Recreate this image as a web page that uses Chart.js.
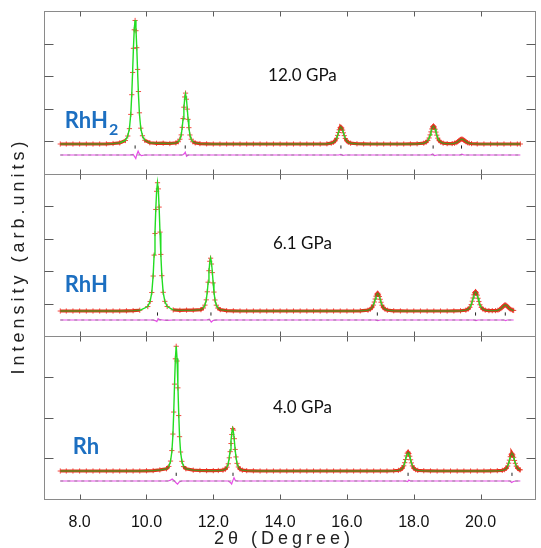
<!DOCTYPE html>
<html>
<head>
<meta charset="utf-8">
<script src="https://cdn.jsdelivr.net/npm/chart.js@4.4.1/dist/chart.umd.min.js"></script>
<style>
  html, body { margin: 0; padding: 0; background: #fff; }
</style>
</head>
<body>
<canvas id="rietveld" width="541" height="548"></canvas>
<script>
// bottom axis tick labels (2 theta, degree)
const xTicks = [8, 10, 12, 14, 16, 18, 20];

const pressures = ["12.0 GPa", "6.1 GPa", "4.0 GPa"];
const phases = ["RhH", "RhH", "Rh"];
const phaseSubs = ["2", "", ""];

// ---- 12.0 GPa, RhH2
const angle12 = [
  7.42, 7.6, 7.8, 8.0, 8.2, 8.4, 8.6, 8.8, 9.0, 9.2,
  9.37, 9.44, 9.49, 9.53, 9.56, 9.585, 9.61, 9.635, 9.66, 9.685, 9.71, 9.735, 9.76, 9.79, 9.83, 9.88, 9.95,
  10.1, 10.3, 10.5, 10.7,
  10.88, 10.95, 11.0, 11.04, 11.07, 11.095, 11.12, 11.145, 11.17, 11.195, 11.22, 11.245, 11.27, 11.3, 11.34, 11.39, 11.46,
  11.6, 11.8, 12.0, 12.2, 12.4, 12.6, 12.8, 13.0, 13.2, 13.4, 13.6, 13.8, 14.0, 14.2, 14.4, 14.6, 14.8, 15.0, 15.2, 15.4,
  15.53, 15.6, 15.65, 15.69, 15.72, 15.745, 15.77, 15.795, 15.82, 15.845, 15.87, 15.895, 15.92, 15.95, 15.99, 16.04, 16.11,
  16.3, 16.5, 16.7, 16.9, 17.1, 17.3, 17.5, 17.7, 17.9, 18.1,
  18.3, 18.37, 18.42, 18.46, 18.49, 18.515, 18.54, 18.565, 18.59, 18.615, 18.64, 18.665, 18.69, 18.72, 18.76, 18.81, 18.88,
  19.0,
  19.15, 19.22, 19.27, 19.31, 19.34, 19.365, 19.39, 19.415, 19.44, 19.465, 19.49, 19.515, 19.54, 19.57, 19.61, 19.66, 19.73,
  19.9, 20.1, 20.3, 20.5, 20.7, 20.9, 21.1, 21.19
];
const obs12 = [
  0, 0, 0, 0, 0, 0, 0, 5, 15, 35,
  108, 250, 480, 925, 1540, 2235, 2990, 3570, 3860, 3540, 3010, 2330, 1640, 975, 495, 258, 115,
  40, 22, 25, 15,
  34, 70, 150, 285, 520, 795, 1150, 1470, 1590, 1400, 1090, 770, 510, 282, 150, 68, 34,
  12, 5, 0, 0, 0, 0, 0, 0, 0, 0, 0, 0, 0, 0, 0, 0, 0, 0, 0, 6,
  26, 55, 100, 178, 270, 360, 445, 510, 525, 500, 435, 350, 262, 172, 100, 54, 25,
  7, 2, 0, 0, 0, 0, 0, 0, 2, 7,
  26, 57, 108, 188, 285, 380, 470, 540, 565, 535, 462, 372, 276, 182, 105, 56, 26,
  12,
  13, 25, 44, 70, 94, 115, 132, 146, 152, 144, 128, 110, 90, 66, 42, 24, 12,
  4, 0, 0, 0, 0, 0, 0, 0
];
const calc12 = [
  0, 0, 0, 0, 0, 0, 0, 5, 14, 33,
  112, 252, 484, 930, 1550, 2248, 3003, 3604, 3875, 3604, 3003, 2248, 1550, 930, 484, 252, 112,
  38, 22, 22, 15,
  33, 67, 148, 281, 515, 780, 1123, 1420, 1560, 1420, 1123, 780, 515, 281, 148, 67, 33,
  12, 5, 0, 0, 0, 0, 0, 0, 0, 0, 0, 0, 0, 0, 0, 0, 0, 0, 0, 6,
  24, 53, 101, 175, 265, 355, 440, 504, 530, 504, 440, 355, 265, 175, 101, 53, 24,
  7, 2, 0, 0, 0, 0, 0, 0, 2, 7,
  25, 56, 106, 185, 280, 375, 465, 532, 560, 532, 465, 375, 280, 185, 106, 56, 25,
  12,
  12, 24, 43, 68, 92, 113, 130, 145, 150, 145, 130, 113, 92, 68, 43, 24, 12,
  4, 0, 0, 0, 0, 0, 0, 0
];
const diffAngle12 = [7.42, 9.5, 9.6, 9.65, 9.68, 9.71, 9.75, 9.79, 9.85, 9.95, 11.08, 11.13, 11.16, 11.2, 11.25,
  15.75, 15.82, 15.88, 15.95, 18.5, 18.57, 18.62, 18.7, 19.38, 19.44, 19.5, 21.19];
const diff12 = [0, 0, 20, -60, -110, 10, 120, 30, -20, 0, 0, 40, 90, -40, 0,
  0, 20, -15, 0, 0, 30, -20, 0, 0, 25, 0, 0];
const bragg12 = [9.66, 11.16, 15.82, 18.58, 19.43];

// ---- 6.1 GPa, RhH
const angle06 = [
  7.42, 7.6, 7.8, 8.0, 8.2, 8.4, 8.6, 8.8, 9.0, 9.2, 9.4, 9.6, 9.8,
  10.04, 10.11, 10.16, 10.2, 10.23, 10.255, 10.28, 10.305, 10.33, 10.355, 10.38, 10.405, 10.43, 10.46, 10.5, 10.55, 10.62,
  10.8, 11.0, 11.2, 11.4,
  11.63, 11.7, 11.75, 11.79, 11.82, 11.845, 11.87, 11.895, 11.92, 11.945, 11.97, 11.995, 12.02, 12.05, 12.09, 12.14, 12.21,
  12.4, 12.6, 12.8, 13.0, 13.2, 13.4, 13.6, 13.8, 14.0, 14.2, 14.4, 14.6, 14.8, 15.0, 15.2, 15.4, 15.6, 15.8, 16.0, 16.2, 16.4,
  16.63, 16.7, 16.75, 16.79, 16.82, 16.845, 16.87, 16.895, 16.92, 16.945, 16.97, 16.995, 17.02, 17.05, 17.09, 17.14, 17.21,
  17.4, 17.6, 17.8, 18.0, 18.2, 18.4, 18.6, 18.8, 19.0, 19.2, 19.4,
  19.56, 19.63, 19.68, 19.72, 19.75, 19.775, 19.8, 19.825, 19.85, 19.875, 19.9, 19.925, 19.95, 19.98, 20.02, 20.07, 20.14,
  20.25, 20.35,
  20.45, 20.52, 20.57, 20.61, 20.64, 20.665, 20.69, 20.715, 20.74, 20.765, 20.79, 20.815, 20.84, 20.87, 20.91, 20.96, 20.99
];
const obs06 = [
  0, 0, 0, 0, 0, 0, 0, 0, 0, 0, 5, 10, 22,
  130, 278, 540, 1020, 1630, 2260, 2960, 3490, 3740, 3560, 3030, 2300, 1650, 1030, 545, 282, 132,
  32, 20, 25, 28,
  40, 86, 172, 326, 560, 840, 1175, 1450, 1540, 1370, 1120, 820, 552, 322, 170, 84, 40,
  10, 5, 0, 0, 0, 0, 0, 0, 0, 0, 0, 0, 0, 0, 0, 0, 0, 0, 0, 0, 6,
  24, 53, 100, 172, 262, 350, 432, 495, 520, 488, 424, 342, 255, 168, 97, 52, 24,
  6, 2, 0, 0, 0, 0, 0, 0, 0, 2, 7,
  26, 57, 108, 188, 285, 380, 472, 540, 568, 532, 462, 372, 278, 183, 106, 56, 26,
  12, 10,
  12, 23, 45, 72, 98, 126, 150, 170, 178, 166, 146, 122, 95, 68, 43, 23, 16
];
const calc06 = [
  0, 0, 0, 0, 0, 0, 0, 0, 0, 0, 5, 10, 22,
  131, 281, 543, 1030, 1648, 2285, 2997, 3521, 3746, 3521, 2997, 2285, 1648, 1030, 543, 281, 131,
  32, 20, 20, 22,
  39, 85, 170, 324, 556, 834, 1159, 1421, 1545, 1421, 1159, 834, 556, 324, 170, 85, 39,
  10, 5, 0, 0, 0, 0, 0, 0, 0, 0, 0, 0, 0, 0, 0, 0, 0, 0, 0, 0, 6,
  23, 52, 98, 170, 258, 346, 428, 490, 516, 490, 428, 346, 258, 170, 98, 52, 23,
  6, 2, 0, 0, 0, 0, 0, 0, 0, 2, 7,
  25, 56, 107, 186, 282, 377, 467, 535, 563, 535, 467, 377, 282, 186, 107, 56, 25,
  12, 10,
  11, 22, 44, 70, 97, 124, 149, 168, 175, 168, 149, 124, 97, 70, 44, 22, 16
];
const diffAngle06 = [7.42, 10.2, 10.28, 10.31, 10.35, 10.4, 10.5, 10.6, 10.8, 11.8, 11.88, 11.94, 12.0, 12.1,
  16.85, 16.92, 17.0, 19.8, 19.86, 19.92, 20.7, 20.75, 20.8, 20.99];
const diff06 = [0, 0, -25, -45, 40, 10, 0, -10, 0, 0, 25, -60, -10, 0,
  0, -15, 0, 0, -20, 0, 0, -15, 0, 0];
const bragg06 = [10.33, 11.93, 16.91, 19.85, 20.74];

// ---- 4.0 GPa, Rh
const angle04 = [
  7.42, 7.6, 7.8, 8.0, 8.2, 8.4, 8.6, 8.8, 9.0, 9.2, 9.4, 9.6, 9.8, 10.0, 10.2, 10.4,
  10.6, 10.67, 10.72, 10.76, 10.79, 10.815, 10.84, 10.865, 10.89, 10.915, 10.94, 10.965, 10.99, 11.02, 11.06, 11.11, 11.18,
  11.4, 11.6, 11.8, 12.0, 12.15,
  12.29, 12.36, 12.41, 12.45, 12.48, 12.505, 12.53, 12.555, 12.58, 12.605, 12.63, 12.655, 12.68, 12.71, 12.75, 12.8, 12.87,
  13.0, 13.2, 13.4, 13.6, 13.8, 14.0, 14.2, 14.4, 14.6, 14.8, 15.0, 15.2, 15.4, 15.6, 15.8, 16.0, 16.2, 16.4, 16.6, 16.8, 17.0, 17.2, 17.4,
  17.54, 17.61, 17.66, 17.7, 17.73, 17.755, 17.78, 17.805, 17.83, 17.855, 17.88, 17.905, 17.93, 17.96, 18.0, 18.05, 18.12,
  18.3, 18.5, 18.7, 18.9, 19.1, 19.3, 19.5, 19.7, 19.9, 20.1, 20.3, 20.5,
  20.65, 20.72, 20.77, 20.81, 20.84, 20.865, 20.89, 20.915, 20.94, 20.965, 20.99, 21.015, 21.04, 21.07, 21.11, 21.16, 21.19
];
const obs04 = [
  0, 0, 0, 0, 0, 0, 0, 0, 0, 0, 0, 0, 0, 5, 10, 25,
  52, 104, 226, 465, 840, 1340, 1975, 2550, 2835, 2500, 1890, 1260, 780, 432, 220, 101, 51,
  20, 12, 8, 8, 12,
  20, 40, 88, 165, 300, 440, 625, 830, 965, 930, 735, 490, 320, 174, 92, 41, 20,
  8, 4, 0, 0, 0, 0, 0, 0, 0, 0, 0, 0, 0, 0, 0, 0, 0, 0, 0, 0, 0, 0, 6,
  15, 33, 63, 118, 190, 262, 343, 405, 430, 398, 336, 256, 185, 116, 62, 32, 15,
  6, 2, 0, 0, 0, 0, 0, 0, 0, 0, 2, 7,
  15, 31, 59, 112, 178, 247, 325, 380, 400, 368, 312, 240, 175, 110, 58, 30, 27
];
const calc04 = [
  0, 0, 0, 0, 0, 0, 0, 0, 0, 0, 0, 0, 0, 5, 10, 24,
  51, 102, 222, 437, 795, 1306, 1960, 2556, 2840, 2556, 1960, 1306, 795, 437, 222, 102, 51,
  20, 12, 8, 8, 12,
  20, 41, 91, 172, 316, 479, 690, 872, 958, 872, 690, 479, 316, 172, 91, 41, 20,
  8, 4, 0, 0, 0, 0, 0, 0, 0, 0, 0, 0, 0, 0, 0, 0, 0, 0, 0, 0, 0, 0, 6,
  15, 32, 62, 117, 187, 259, 340, 400, 425, 400, 340, 259, 187, 117, 62, 32, 15,
  6, 2, 0, 0, 0, 0, 0, 0, 0, 0, 2, 7,
  14, 30, 58, 111, 177, 245, 322, 378, 402, 378, 322, 245, 177, 111, 58, 30, 27
];
const diffAngle04 = [7.42, 10.65, 10.72, 10.77, 10.83, 10.9, 10.93, 10.98, 11.05, 12.45, 12.52, 12.55, 12.59, 12.62, 12.66, 12.72,
  17.75, 17.82, 17.85, 17.9, 20.88, 20.93, 20.98, 21.05, 21.19];
const diff04 = [0, 0, 20, 45, 5, -50, -70, -20, 0, 0, -40, -68, 20, 75, 10, 0,
  0, -15, 20, 0, 0, -35, -10, 0, 0];
const bragg04 = [10.89, 12.59, 17.83, 20.94];

// per panel, top to bottom: y range, where the difference curve and reflection marks sit, label anchors (data coords)
const panels = [
  { axis: "y1", min: -927, max: 4156, diffAt: -344, braggAt: -94, gpaAt: [14.667, 1969], phaseAt: [7.556, 500],
    angle: angle12, obs: obs12, calc: calc12, diffAngle: diffAngle12, diff: diff12, bragg: bragg12 },
  { axis: "y2", min: -738, max: 4004, diffAt: -262, braggAt: -87, gpaAt: [14.667, 1799], phaseAt: [7.556, 554],
    angle: angle06, obs: obs06, calc: calc06, diffAngle: diffAngle06, diff: diff06, bragg: bragg06 },
  { axis: "y3", min: -636, max: 3061, diffAt: -227, braggAt: -75, gpaAt: [14.667, 1325], phaseAt: [7.793, 386],
    angle: angle04, obs: obs04, calc: calc04, diffAngle: diffAngle04, diff: diff04, bragg: bragg04 },
];

const pts = (xs, ys, shift) => xs.map((x, i) => ({ x: x, y: ys[i] + shift }));

// on steep flanks: no red connecting line, bright green fit; on the flat background the
// red band dominates and the fit shows through darker, as in the figure
const obsRed = "rgba(230,36,14,0.95)";
const steep = (c) => Math.abs(c.p1.y - c.p0.y) > 2.5;
const obsSegment = (c) => (steep(c) ? "rgba(0,0,0,0)" : obsRed);
const calcSegment = (c) => (steep(c) ? "#22dd22" : "#5a8a1c");

const datasets = [];
const scales = {
  x: {
    type: "linear",
    min: 6.933,
    max: 21.659,
    afterBuildTicks: (s) => { s.ticks = xTicks.map((v) => ({ value: v })); },
    afterFit: (s) => { s.height = 28; },
    grid: { display: false },
    border: { display: false },
    ticks: {
      padding: 6,
      color: "#111",
      maxRotation: 0,
      font: { family: "Liberation Sans", size: 16 },
      callback: (v) => Number(v).toFixed(1),
    },
  },
};

// stacked axes are laid out with the last one on top, so add them bottom panel first
panels.slice().reverse().forEach((p) => {
  scales[p.axis] = {
    type: "linear",
    position: "left",
    stack: "panels",
    stackWeight: 1,
    min: p.min,
    max: p.max,
    afterFit: (s) => { s.width = 0; },
    grid: { display: false },
    border: { display: false },
    ticks: { display: false, stepSize: 1000, includeBounds: false },
  };
});

panels.forEach((p) => {
  datasets.push(
    {
      label: "calc", yAxisID: p.axis, data: pts(p.angle, p.calc, 0), showLine: true,
      borderColor: "#22dd22", borderWidth: 1.4, segment: { borderColor: calcSegment },
      pointRadius: 0, order: 1,
    },
    {
      label: "obs", yAxisID: p.axis, data: pts(p.angle, p.obs, 0), showLine: true,
      borderColor: obsRed, borderWidth: 3.2, segment: { borderColor: obsSegment },
      pointStyle: "cross", pointRadius: 2.6, pointBorderWidth: 1,
      pointBorderColor: "rgba(240,45,35,0.85)", order: 2,
    },
    {
      label: "zero", yAxisID: p.axis, showLine: true, pointRadius: 0, order: 3,
      data: [{ x: p.diffAngle[0], y: p.diffAt }, { x: p.diffAngle[p.diffAngle.length - 1], y: p.diffAt }],
      borderColor: "rgba(130,130,130,0.8)", borderWidth: 1, borderDash: [3, 4],
    },
    {
      label: "diff", yAxisID: p.axis, data: pts(p.diffAngle, p.diff, p.diffAt), showLine: true,
      borderColor: "#e84de8", borderWidth: 1.2, pointRadius: 0, order: 4,
    },
    {
      label: "bragg", yAxisID: p.axis, data: p.bragg.map((x) => ({ x: x, y: p.braggAt })),
      pointStyle: "line", rotation: 90, pointRadius: 1.6, pointBorderWidth: 1,
      pointBorderColor: "#222", order: 0,
    }
  );
});

const framePlugin = {
  id: "frame",
  beforeDatasetsDraw(chart) {
    const { ctx, chartArea: a } = chart;
    const x = chart.scales.x;
    const left = Math.round(a.left) + 0.5;
    const right = Math.round(a.right) - 0.5;
    ctx.save();
    ctx.lineWidth = 1;
    panels.forEach((p) => {
      const y = chart.scales[p.axis];
      const top = Math.round(y.top) + 0.5;
      const bottom = Math.round(y.bottom) + 0.5;
      ctx.strokeStyle = "#8a8a8a";
      ctx.strokeRect(left, top, right - left, bottom - top);
      ctx.strokeStyle = "#5c5c5c";
      ctx.beginPath();
      x.ticks.forEach((t) => {
        const px = Math.round(x.getPixelForValue(t.value)) + 0.5;
        ctx.moveTo(px, top); ctx.lineTo(px, top + 5);
        ctx.moveTo(px, bottom); ctx.lineTo(px, bottom - 5);
      });
      y.ticks.forEach((t) => {
        if (t.value < 0) return;
        const py = Math.round(y.getPixelForValue(t.value)) + 0.5;
        if (py - top < 3) return;
        ctx.moveTo(left, py); ctx.lineTo(left + 9, py);
        ctx.moveTo(right, py); ctx.lineTo(right - 9, py);
      });
      ctx.stroke();
    });
    ctx.restore();
  },
  afterDraw(chart) {
    const { ctx } = chart;
    const x = chart.scales.x;
    ctx.save();
    panels.forEach((p, i) => {
      const y = chart.scales[p.axis];
      ctx.textBaseline = "alphabetic";
      ctx.fillStyle = "#111";
      ctx.font = "17px Lato";
      ctx.textAlign = "center";
      ctx.fillText(pressures[i], x.getPixelForValue(p.gpaAt[0]), y.getPixelForValue(p.gpaAt[1]));

      const lx = x.getPixelForValue(p.phaseAt[0]);
      const ly = y.getPixelForValue(p.phaseAt[1]);
      ctx.fillStyle = "#1c6fc1";
      ctx.textAlign = "left";
      ctx.font = "bold 22px Lato";
      ctx.fillText(phases[i], lx, ly);
      if (phaseSubs[i]) {
        const w = ctx.measureText(phases[i]).width;
        ctx.font = "bold 16px Lato";
        ctx.fillText(phaseSubs[i], lx + w + 1, ly + 7);
      }
    });

    // axis titles, letter-spaced as in the figure
    ctx.fillStyle = "#222";
    ctx.font = "18px 'Liberation Sans'";
    if ("letterSpacing" in ctx) ctx.letterSpacing = "4px";
    ctx.textAlign = "center";
    ctx.textBaseline = "alphabetic";
    ctx.fillText("2θ (Degree)", 284, 544);
    ctx.translate(24, 256);
    ctx.rotate(-Math.PI / 2);
    ctx.fillText("Intensity (arb.units)", 0, 0);
    ctx.restore();
  },
};

new Chart(document.getElementById("rietveld"), {
  type: "scatter",
  data: { datasets: datasets },
  options: {
    responsive: false,
    animation: false,
    devicePixelRatio: 1,
    layout: { padding: { left: 44, top: 11, right: 0, bottom: 21 } },
    plugins: { legend: { display: false }, tooltip: { enabled: false } },
    scales: scales,
  },
  plugins: [framePlugin],
});
</script>
</body>
</html>
